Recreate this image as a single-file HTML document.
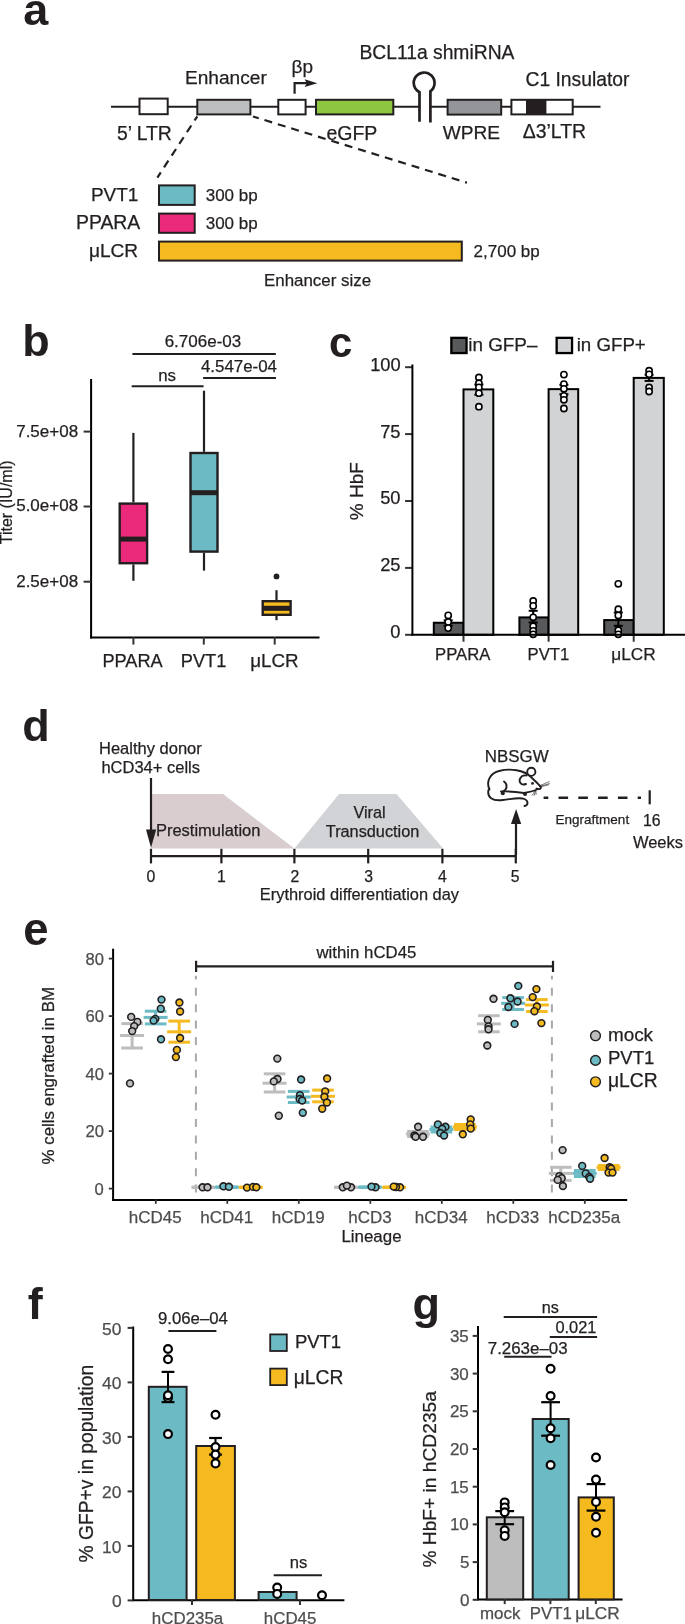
<!DOCTYPE html>
<html><head><meta charset="utf-8"><title>Figure</title>
<style>
html,body{margin:0;padding:0;background:#fff;}
body{width:685px;height:1624px;overflow:hidden;}
svg{display:block;font-family:"Liberation Sans",sans-serif;will-change:transform;}
</style></head>
<body>
<svg width="685" height="1624" viewBox="0 0 685 1624">
<rect width="685" height="1624" fill="#fff"/>
<text x="23.3" y="25" font-size="45" font-weight="bold" fill="#231f20">a</text>
<line x1="111" y1="106.7" x2="419.5" y2="106.7" stroke="#231f20" stroke-width="2" />
<line x1="430.4" y1="106.7" x2="600.5" y2="106.7" stroke="#231f20" stroke-width="2" />
<rect x="139.5" y="98.6" width="28.2" height="15.6" fill="#fff" stroke="#231f20" stroke-width="2"/>
<rect x="197.3" y="99.8" width="53.1" height="14.6" fill="#bcbec0" stroke="#231f20" stroke-width="2"/>
<rect x="278.3" y="99.8" width="27.3" height="14.6" fill="#fff" stroke="#231f20" stroke-width="2"/>
<rect x="316" y="99.8" width="77.3" height="14.6" fill="#8dc63f" stroke="#231f20" stroke-width="2"/>
<rect x="447.6" y="99.8" width="53.6" height="14.8" fill="#939598" stroke="#231f20" stroke-width="2"/>
<rect x="511.4" y="99.8" width="61.3" height="14.6" fill="#fff" stroke="#231f20" stroke-width="2"/>
<rect x="526" y="99.8" width="20.4" height="14.6" fill="#231f20"/>
<path d="M419.5 121.8 L419.5 92.2 A10.4 10.4 0 1 1 430.4 91.21 L430.4 122.4" fill="none" stroke="#231f20" stroke-width="2.7"/>
<path d="M294.6 93.8 L294.6 83.2 L307 83.2" fill="none" stroke="#231f20" stroke-width="2.2"/>
<path d="M304.6 79.3 L317.4 83.2 L304.6 87.1 L306.8 83.2 Z" fill="#231f20"/>
<text x="185" y="84.2" font-size="19.1" fill="#231f20" stroke="#231f20" stroke-width="0.25">Enhancer</text>
<text x="291.6" y="72.5" font-size="19.0" fill="#231f20" stroke="#231f20" stroke-width="0.25">βp</text>
<text x="359.4" y="58.6" font-size="19.3" fill="#231f20" stroke="#231f20" stroke-width="0.25">BCL11a shmiRNA</text>
<text x="525.5" y="86.2" font-size="19.3" fill="#231f20" stroke="#231f20" stroke-width="0.25">C1 Insulator</text>
<text x="116.9" y="140.3" font-size="19.4" fill="#231f20" stroke="#231f20" stroke-width="0.25">5’ LTR</text>
<text x="326.4" y="139.8" font-size="19.5" fill="#231f20" stroke="#231f20" stroke-width="0.25">eGFP</text>
<text x="442.7" y="138.5" font-size="19.1" fill="#231f20" stroke="#231f20" stroke-width="0.25">WPRE</text>
<text x="522.8" y="138.3" font-size="19.4" fill="#231f20" stroke="#231f20" stroke-width="0.25">Δ3’LTR</text>
<line x1="197.3" y1="116.3" x2="157.4" y2="177.6" stroke="#231f20" stroke-width="2.2" stroke-dasharray="8 6" stroke-dashoffset="3"/>
<line x1="253" y1="116.5" x2="467" y2="182.7" stroke="#231f20" stroke-width="2.2" stroke-dasharray="8 6" stroke-dashoffset="2"/>
<rect x="159" y="185.4" width="35.7" height="19.5" fill="#6cbac4" stroke="#231f20" stroke-width="2"/>
<rect x="159" y="213.6" width="35.7" height="19.2" fill="#ec2a7b" stroke="#231f20" stroke-width="2"/>
<rect x="159" y="241.6" width="302.8" height="19" fill="#f4ba1f" stroke="#231f20" stroke-width="2"/>
<text x="90.9" y="201.2" font-size="19.0" fill="#231f20" stroke="#231f20" stroke-width="0.25">PVT1</text>
<text x="76" y="228.7" font-size="19.4" fill="#231f20" stroke="#231f20" stroke-width="0.25">PPARA</text>
<text x="88.9" y="256.6" font-size="19.1" fill="#231f20" stroke="#231f20" stroke-width="0.25">μLCR</text>
<text x="205.7" y="201.2" font-size="17.0" fill="#231f20" stroke="#231f20" stroke-width="0.25">300 bp</text>
<text x="205.7" y="228.7" font-size="17.0" fill="#231f20" stroke="#231f20" stroke-width="0.25">300 bp</text>
<text x="473.6" y="257" font-size="17.0" fill="#231f20" stroke="#231f20" stroke-width="0.25">2,700 bp</text>
<text x="264" y="286.1" font-size="16.9" fill="#231f20" stroke="#231f20" stroke-width="0.25">Enhancer size</text>
<text x="22.2" y="356.4" font-size="45" font-weight="bold" fill="#231f20">b</text>
<line x1="91.1" y1="379" x2="91.1" y2="638.6" stroke="#000" stroke-width="2" />
<line x1="90.1" y1="637.6" x2="319.5" y2="637.6" stroke="#000" stroke-width="2" />
<line x1="83.6" y1="431.6" x2="91" y2="431.6" stroke="#333" stroke-width="2" />
<text x="16.2" y="436.5" font-size="17.0" fill="#231f20" stroke="#231f20" stroke-width="0.25">7.5e+08</text>
<line x1="83.6" y1="506.5" x2="91" y2="506.5" stroke="#333" stroke-width="2" />
<text x="16.2" y="511.4" font-size="17.0" fill="#231f20" stroke="#231f20" stroke-width="0.25">5.0e+08</text>
<line x1="83.6" y1="581.7" x2="91" y2="581.7" stroke="#333" stroke-width="2" />
<text x="16.2" y="586.6" font-size="17.0" fill="#231f20" stroke="#231f20" stroke-width="0.25">2.5e+08</text>
<line x1="133.4" y1="637" x2="133.4" y2="644.6" stroke="#333" stroke-width="2" />
<text x="102.4" y="666.7" font-size="18.2" fill="#231f20" stroke="#231f20" stroke-width="0.25">PPARA</text>
<line x1="203.8" y1="637" x2="203.8" y2="644.6" stroke="#333" stroke-width="2" />
<text x="180.8" y="666.7" font-size="18.2" fill="#231f20" stroke="#231f20" stroke-width="0.25">PVT1</text>
<line x1="274.7" y1="637" x2="274.7" y2="644.6" stroke="#333" stroke-width="2" />
<text x="250.2" y="666.7" font-size="18.8" fill="#231f20" stroke="#231f20" stroke-width="0.25">μLCR</text>
<text transform="translate(12.3,544.25) rotate(-90)" font-size="16.0" fill="#231f20" stroke="#231f20" stroke-width="0.25">Titer (IU/ml)</text>
<line x1="133.4" y1="432.9" x2="133.4" y2="502.4" stroke="#231f20" stroke-width="2.2" />
<line x1="133.4" y1="564.4" x2="133.4" y2="580.8" stroke="#231f20" stroke-width="2.2" />
<rect x="119.7" y="503.6" width="27.4" height="59.6" fill="#ec2a7b" stroke="#231f20" stroke-width="2.4"/>
<rect x="119.5" y="536.6" width="27.8" height="5" fill="#231f20"/>
<line x1="204" y1="390.7" x2="204" y2="451.8" stroke="#231f20" stroke-width="2.2" />
<line x1="204" y1="552.8" x2="204" y2="570.6" stroke="#231f20" stroke-width="2.2" />
<rect x="190.5" y="453" width="27" height="98.6" fill="#6cbac4" stroke="#231f20" stroke-width="2.4"/>
<rect x="190.3" y="490.2" width="27.4" height="5" fill="#231f20"/>
<line x1="276.5" y1="590.2" x2="276.5" y2="600" stroke="#231f20" stroke-width="2.2" />
<line x1="276.5" y1="616" x2="276.5" y2="620.2" stroke="#231f20" stroke-width="2.2" />
<rect x="262.7" y="601.2" width="27.9" height="13.6" fill="#f4ba1f" stroke="#231f20" stroke-width="2.4"/>
<rect x="262.5" y="605.8" width="28.3" height="5" fill="#231f20"/>
<circle cx="276.5" cy="576.4" r="2.9" fill="#231f20"/>
<line x1="132.4" y1="354" x2="275.8" y2="354" stroke="#231f20" stroke-width="2" />
<text x="164.65" y="347.3" font-size="17.0" fill="#231f20" stroke="#231f20" stroke-width="0.25">6.706e-03</text>
<line x1="203.1" y1="378.1" x2="276" y2="378.1" stroke="#231f20" stroke-width="2" />
<text x="200.95" y="372.1" font-size="16.9" fill="#231f20" stroke="#231f20" stroke-width="0.25">4.547e-04</text>
<line x1="131.7" y1="386.3" x2="203.6" y2="386.3" stroke="#231f20" stroke-width="2" />
<text x="158.15" y="380.8" font-size="16.9" fill="#231f20" stroke="#231f20" stroke-width="0.25">ns</text>
<text x="329" y="356.6" font-size="42" font-weight="bold" fill="#231f20">c</text>
<line x1="405.1" y1="634.8" x2="412.4" y2="634.8" stroke="#333" stroke-width="2" />
<text x="390.2" y="638.2" font-size="18.3" fill="#231f20" stroke="#231f20" stroke-width="0.25">0</text>
<line x1="405.1" y1="567.9" x2="412.4" y2="567.9" stroke="#333" stroke-width="2" />
<text x="380.2" y="571.3" font-size="18.3" fill="#231f20" stroke="#231f20" stroke-width="0.25">25</text>
<line x1="405.1" y1="501" x2="412.4" y2="501" stroke="#333" stroke-width="2" />
<text x="380.2" y="504.4" font-size="18.3" fill="#231f20" stroke="#231f20" stroke-width="0.25">50</text>
<line x1="405.1" y1="434.1" x2="412.4" y2="434.1" stroke="#333" stroke-width="2" />
<text x="380.2" y="437.5" font-size="18.3" fill="#231f20" stroke="#231f20" stroke-width="0.25">75</text>
<line x1="405.1" y1="367.2" x2="412.4" y2="367.2" stroke="#333" stroke-width="2" />
<text x="370.2" y="370.6" font-size="18.3" fill="#231f20" stroke="#231f20" stroke-width="0.25">100</text>
<text transform="translate(362.9,520.15) rotate(-90)" font-size="19.0" fill="#231f20" stroke="#231f20" stroke-width="0.25">% HbF</text>
<rect x="433.8" y="622.76" width="29.7" height="12.04" fill="#58595b" stroke="#000" stroke-width="2"/>
<rect x="463.5" y="389.41" width="29.8" height="245.39" fill="#d1d3d4" stroke="#000" stroke-width="2"/>
<line x1="463.5" y1="634.8" x2="463.5" y2="641.7" stroke="#333" stroke-width="2" />
<text x="435" y="660" font-size="16.7" fill="#231f20" stroke="#231f20" stroke-width="0.25">PPARA</text>
<line x1="448.2" y1="620.3" x2="448.2" y2="625.8" stroke="#000" stroke-width="2" />
<line x1="443.7" y1="620.3" x2="452.7" y2="620.3" stroke="#000" stroke-width="2" />
<line x1="443.7" y1="625.8" x2="452.7" y2="625.8" stroke="#000" stroke-width="2" />
<circle cx="448.2" cy="615.4" r="3.1" fill="#fff" stroke="#000" stroke-width="1.6"/>
<circle cx="448.2" cy="622.1" r="3.1" fill="#fff" stroke="#000" stroke-width="1.6"/>
<circle cx="448.2" cy="628.1" r="3.1" fill="#fff" stroke="#000" stroke-width="1.6"/>
<line x1="478.9" y1="384.5" x2="478.9" y2="394.7" stroke="#000" stroke-width="2" />
<line x1="474.4" y1="384.5" x2="483.4" y2="384.5" stroke="#000" stroke-width="2" />
<line x1="474.4" y1="394.7" x2="483.4" y2="394.7" stroke="#000" stroke-width="2" />
<circle cx="478.9" cy="377.5" r="3.1" fill="#fff" stroke="#000" stroke-width="1.6"/>
<circle cx="478.9" cy="383.2" r="3.1" fill="#fff" stroke="#000" stroke-width="1.6"/>
<circle cx="478.9" cy="387.4" r="3.1" fill="#fff" stroke="#000" stroke-width="1.6"/>
<circle cx="478.9" cy="393.2" r="3.1" fill="#fff" stroke="#000" stroke-width="1.6"/>
<circle cx="478.9" cy="406.7" r="3.1" fill="#fff" stroke="#000" stroke-width="1.6"/>
<rect x="519.4" y="617.41" width="29.2" height="17.39" fill="#58595b" stroke="#000" stroke-width="2"/>
<rect x="548.6" y="389.14" width="29.6" height="245.66" fill="#d1d3d4" stroke="#000" stroke-width="2"/>
<line x1="548.6" y1="634.8" x2="548.6" y2="641.7" stroke="#333" stroke-width="2" />
<text x="527.6" y="660" font-size="16.7" fill="#231f20" stroke="#231f20" stroke-width="0.25">PVT1</text>
<line x1="533.2" y1="610.8" x2="533.2" y2="622.5" stroke="#000" stroke-width="2" />
<line x1="528.7" y1="610.8" x2="537.7" y2="610.8" stroke="#000" stroke-width="2" />
<line x1="528.7" y1="622.5" x2="537.7" y2="622.5" stroke="#000" stroke-width="2" />
<circle cx="533.2" cy="601" r="3.1" fill="#fff" stroke="#000" stroke-width="1.6"/>
<circle cx="533.2" cy="605.9" r="3.1" fill="#fff" stroke="#000" stroke-width="1.6"/>
<circle cx="533.2" cy="617.3" r="3.1" fill="#fff" stroke="#000" stroke-width="1.6"/>
<circle cx="533.2" cy="626.2" r="3.1" fill="#fff" stroke="#000" stroke-width="1.6"/>
<circle cx="533.2" cy="630.8" r="3.1" fill="#fff" stroke="#000" stroke-width="1.6"/>
<circle cx="533.2" cy="634.3" r="3.1" fill="#fff" stroke="#000" stroke-width="1.6"/>
<line x1="563.9" y1="384.8" x2="563.9" y2="394.3" stroke="#000" stroke-width="2" />
<line x1="559.4" y1="384.8" x2="568.4" y2="384.8" stroke="#000" stroke-width="2" />
<line x1="559.4" y1="394.3" x2="568.4" y2="394.3" stroke="#000" stroke-width="2" />
<circle cx="563.9" cy="374.6" r="3.1" fill="#fff" stroke="#000" stroke-width="1.6"/>
<circle cx="563.9" cy="384.1" r="3.1" fill="#fff" stroke="#000" stroke-width="1.6"/>
<circle cx="563.9" cy="388.8" r="3.1" fill="#fff" stroke="#000" stroke-width="1.6"/>
<circle cx="563.9" cy="395.8" r="3.1" fill="#fff" stroke="#000" stroke-width="1.6"/>
<circle cx="563.9" cy="399.8" r="3.1" fill="#fff" stroke="#000" stroke-width="1.6"/>
<circle cx="563.9" cy="408.5" r="3.1" fill="#fff" stroke="#000" stroke-width="1.6"/>
<rect x="604.2" y="620.08" width="29.5" height="14.72" fill="#58595b" stroke="#000" stroke-width="2"/>
<rect x="633.7" y="377.9" width="30.1" height="256.9" fill="#d1d3d4" stroke="#000" stroke-width="2"/>
<line x1="633.7" y1="634.8" x2="633.7" y2="641.7" stroke="#333" stroke-width="2" />
<text x="611.2" y="660" font-size="17.3" fill="#231f20" stroke="#231f20" stroke-width="0.25">μLCR</text>
<line x1="618.3" y1="612.5" x2="618.3" y2="625.8" stroke="#000" stroke-width="2" />
<line x1="613.8" y1="612.5" x2="622.8" y2="612.5" stroke="#000" stroke-width="2" />
<line x1="613.8" y1="625.8" x2="622.8" y2="625.8" stroke="#000" stroke-width="2" />
<circle cx="618.3" cy="583.8" r="3.1" fill="#fff" stroke="#000" stroke-width="1.6"/>
<circle cx="618.3" cy="609.2" r="3.1" fill="#fff" stroke="#000" stroke-width="1.6"/>
<circle cx="618.3" cy="615.4" r="3.1" fill="#fff" stroke="#000" stroke-width="1.6"/>
<circle cx="618.3" cy="630.2" r="3.1" fill="#fff" stroke="#000" stroke-width="1.6"/>
<circle cx="618.3" cy="634.3" r="3.1" fill="#fff" stroke="#000" stroke-width="1.6"/>
<line x1="649.1" y1="374.7" x2="649.1" y2="380.9" stroke="#000" stroke-width="2" />
<line x1="644.6" y1="374.7" x2="653.6" y2="374.7" stroke="#000" stroke-width="2" />
<line x1="644.6" y1="380.9" x2="653.6" y2="380.9" stroke="#000" stroke-width="2" />
<circle cx="649.1" cy="370.7" r="3.1" fill="#fff" stroke="#000" stroke-width="1.6"/>
<circle cx="649.1" cy="374.3" r="3.1" fill="#fff" stroke="#000" stroke-width="1.6"/>
<circle cx="649.1" cy="387.5" r="3.1" fill="#fff" stroke="#000" stroke-width="1.6"/>
<circle cx="649.1" cy="391.5" r="3.1" fill="#fff" stroke="#000" stroke-width="1.6"/>
<line x1="412.4" y1="364.4" x2="412.4" y2="635.8" stroke="#000" stroke-width="2" />
<line x1="411.4" y1="634.8" x2="685" y2="634.8" stroke="#000" stroke-width="2" />
<rect x="451.35" y="337.85" width="15.2" height="15.2" fill="#58595b" stroke="#000" stroke-width="2.3"/>
<text x="468.2" y="350.7" font-size="18.9" fill="#231f20" stroke="#231f20" stroke-width="0.25">in GFP–</text>
<rect x="556.65" y="337.85" width="15.4" height="15.2" fill="#d1d3d4" stroke="#000" stroke-width="2.3"/>
<text x="576.7" y="350.8" font-size="18.7" fill="#231f20" stroke="#231f20" stroke-width="0.25">in GFP+</text>
<text x="22.2" y="740.9" font-size="45" font-weight="bold" fill="#231f20">d</text>
<path d="M151 794.1 L223 794.1 L294.4 848.5 L151 848.5 Z" fill="#d9cdcf"/>
<path d="M294.4 848.5 L339.1 794.1 L396.5 794.1 L443.1 848.5 Z" fill="#d1d3d6"/>
<line x1="150" y1="856.1" x2="516.4" y2="856.1" stroke="#231f20" stroke-width="2.2" />
<line x1="151" y1="848.8" x2="151" y2="863.4" stroke="#231f20" stroke-width="2.2" />
<text x="146.5" y="882.3" font-size="15.8" fill="#231f20" stroke="#231f20" stroke-width="0.25">0</text>
<line x1="221.4" y1="848.8" x2="221.4" y2="863.4" stroke="#231f20" stroke-width="2.2" />
<text x="216.9" y="882.3" font-size="15.8" fill="#231f20" stroke="#231f20" stroke-width="0.25">1</text>
<line x1="294.4" y1="848.8" x2="294.4" y2="863.4" stroke="#231f20" stroke-width="2.2" />
<text x="290.4" y="882.3" font-size="15.8" fill="#231f20" stroke="#231f20" stroke-width="0.25">2</text>
<line x1="368.2" y1="848.8" x2="368.2" y2="863.4" stroke="#231f20" stroke-width="2.2" />
<text x="364.2" y="882.3" font-size="15.8" fill="#231f20" stroke="#231f20" stroke-width="0.25">3</text>
<line x1="442.4" y1="848.8" x2="442.4" y2="863.4" stroke="#231f20" stroke-width="2.2" />
<text x="437.9" y="882.3" font-size="15.8" fill="#231f20" stroke="#231f20" stroke-width="0.25">4</text>
<line x1="515.8" y1="848.8" x2="515.8" y2="863.4" stroke="#231f20" stroke-width="2.2" />
<text x="510.8" y="882.3" font-size="15.8" fill="#231f20" stroke="#231f20" stroke-width="0.25">5</text>
<text x="259.8" y="899.9" font-size="16.4" fill="#231f20" stroke="#231f20" stroke-width="0.25">Erythroid differentiation day</text>
<line x1="151" y1="778" x2="151" y2="832" stroke="#231f20" stroke-width="2.2" />
<path d="M146 829.6 L156.2 829.6 L151 847.8 Z" fill="#231f20"/>
<line x1="516" y1="855" x2="516" y2="820" stroke="#231f20" stroke-width="2.2" />
<path d="M511 824 L521.2 824 L516.1 808.9 Z" fill="#231f20"/>
<text x="99" y="753.9" font-size="16.5" fill="#231f20" stroke="#231f20" stroke-width="0.25">Healthy donor</text>
<text x="101.4" y="773" font-size="16.5" fill="#231f20" stroke="#231f20" stroke-width="0.25">hCD34+ cells</text>
<text x="155.9" y="836" font-size="16.5" fill="#231f20" stroke="#231f20" stroke-width="0.25">Prestimulation</text>
<text x="353.5" y="818" font-size="16.2" fill="#231f20" stroke="#231f20" stroke-width="0.25">Viral</text>
<text x="325.8" y="837.4" font-size="16.3" fill="#231f20" stroke="#231f20" stroke-width="0.25">Transduction</text>
<text x="484.8" y="761.6" font-size="16.9" fill="#231f20" stroke="#231f20" stroke-width="0.25">NBSGW</text>
<path d="M489.5 789.5 C486 782 489.5 773.5 499 771 C510 768 524 770 531 777 C535 781 538.5 784 540.5 786.5" fill="none" stroke="#231f20" stroke-width="1.9" stroke-linecap="round" stroke-linejoin="round"/>
<path d="M501 791.5 C510 791 517 792 524 793 C530 792 535 790.5 538 789" fill="none" stroke="#231f20" stroke-width="1.9" stroke-linecap="round" stroke-linejoin="round"/>
<path d="M488.5 790 C487 797 492 801.5 503 800 C512 799 520 797 524.5 799 C529 801 528 805.5 524.5 806" fill="none" stroke="#231f20" stroke-width="1.9" stroke-linecap="round" stroke-linejoin="round"/>
<path d="M504 781.5 C507.5 784 507.5 789 503.5 791" fill="none" stroke="#231f20" stroke-width="1.9" stroke-linecap="round" stroke-linejoin="round"/>
<path d="M540.5 786.5 C542 788.5 539 790 536.5 788.5" fill="none" stroke="#231f20" stroke-width="1.9" stroke-linecap="round" stroke-linejoin="round"/>
<circle cx="531.3" cy="771.8" r="4.1" fill="#fff" stroke="#231f20" stroke-width="1.9"/>
<path d="M526.5 775.5 C520.5 774.5 517.5 781 521.5 784 C523 785 524.5 784.5 526 784" fill="none" stroke="#231f20" stroke-width="1.9" stroke-linecap="round" stroke-linejoin="round"/>
<circle cx="532.5" cy="783.4" r="1.4" fill="#231f20"/>
<circle cx="502.8" cy="793.3" r="2" fill="#231f20"/>
<circle cx="525" cy="793.9" r="2" fill="#231f20"/>
<path d="M539 786 L549.5 781.5 M539 786.5 L550 783.5 M539.5 787 L549 784.8 M535 791 L532 795.5 M535.5 791 L534 795.8 M536 791 L536 795" stroke="#231f20" stroke-width="0.6" fill="none"/>
<line x1="543.6" y1="797.7" x2="641" y2="797.7" stroke="#231f20" stroke-width="2.4" stroke-dasharray="9.6 10.2" stroke-dashoffset="4.9"/>
<line x1="649.7" y1="790.3" x2="649.7" y2="804.3" stroke="#231f20" stroke-width="2.2" />
<text x="555.6" y="823.8" font-size="13.5" fill="#231f20" stroke="#231f20" stroke-width="0.25">Engraftment</text>
<text x="643" y="825.6" font-size="15.8" fill="#231f20" stroke="#231f20" stroke-width="0.25">16</text>
<text x="632.9" y="848" font-size="16.5" fill="#231f20" stroke="#231f20" stroke-width="0.25">Weeks</text>
<text x="23.2" y="945.4" font-size="45.5" font-weight="bold" fill="#231f20">e</text>
<line x1="113.1" y1="948.7" x2="113.1" y2="1200.9" stroke="#000" stroke-width="2" />
<line x1="112.1" y1="1199.9" x2="627.2" y2="1199.9" stroke="#000" stroke-width="2" />
<line x1="108.8" y1="1188.6" x2="113.1" y2="1188.6" stroke="#333" stroke-width="1.8" />
<text x="94.6" y="1194.6" font-size="16.6" fill="#4d4d4d" stroke="#4d4d4d" stroke-width="0.25">0</text>
<line x1="108.8" y1="1131.1" x2="113.1" y2="1131.1" stroke="#333" stroke-width="1.8" />
<text x="85.6" y="1137.1" font-size="16.6" fill="#4d4d4d" stroke="#4d4d4d" stroke-width="0.25">20</text>
<line x1="108.8" y1="1073.6" x2="113.1" y2="1073.6" stroke="#333" stroke-width="1.8" />
<text x="85.6" y="1079.6" font-size="16.6" fill="#4d4d4d" stroke="#4d4d4d" stroke-width="0.25">40</text>
<line x1="108.8" y1="1016.1" x2="113.1" y2="1016.1" stroke="#333" stroke-width="1.8" />
<text x="85.6" y="1022.1" font-size="16.6" fill="#4d4d4d" stroke="#4d4d4d" stroke-width="0.25">60</text>
<line x1="108.8" y1="958.6" x2="113.1" y2="958.6" stroke="#333" stroke-width="1.8" />
<text x="85.6" y="964.6" font-size="16.6" fill="#4d4d4d" stroke="#4d4d4d" stroke-width="0.25">80</text>
<text transform="translate(54,1164.45) rotate(-90)" font-size="16.9" fill="#231f20" stroke="#231f20" stroke-width="0.25">% cells engrafted in BM</text>
<line x1="155.8" y1="1199.5" x2="155.8" y2="1203.8" stroke="#333" stroke-width="1.8" />
<text x="128.8" y="1222.9" font-size="17.0" fill="#4d4d4d" stroke="#4d4d4d" stroke-width="0.25">hCD45</text>
<line x1="227.3" y1="1199.5" x2="227.3" y2="1203.8" stroke="#333" stroke-width="1.8" />
<text x="200.3" y="1222.9" font-size="17.0" fill="#4d4d4d" stroke="#4d4d4d" stroke-width="0.25">hCD41</text>
<line x1="298.8" y1="1199.5" x2="298.8" y2="1203.8" stroke="#333" stroke-width="1.8" />
<text x="271.8" y="1222.9" font-size="17.0" fill="#4d4d4d" stroke="#4d4d4d" stroke-width="0.25">hCD19</text>
<line x1="370.3" y1="1199.5" x2="370.3" y2="1203.8" stroke="#333" stroke-width="1.8" />
<text x="348.3" y="1222.9" font-size="17.0" fill="#4d4d4d" stroke="#4d4d4d" stroke-width="0.25">hCD3</text>
<line x1="441.8" y1="1199.5" x2="441.8" y2="1203.8" stroke="#333" stroke-width="1.8" />
<text x="414.8" y="1222.9" font-size="17.0" fill="#4d4d4d" stroke="#4d4d4d" stroke-width="0.25">hCD34</text>
<line x1="513.3" y1="1199.5" x2="513.3" y2="1203.8" stroke="#333" stroke-width="1.8" />
<text x="486.3" y="1222.9" font-size="17.0" fill="#4d4d4d" stroke="#4d4d4d" stroke-width="0.25">hCD33</text>
<line x1="584.8" y1="1199.5" x2="584.8" y2="1203.8" stroke="#333" stroke-width="1.8" />
<text x="548.3" y="1222.9" font-size="17.0" fill="#4d4d4d" stroke="#4d4d4d" stroke-width="0.25">hCD235a</text>
<text x="341.45" y="1242.1" font-size="16.9" fill="#231f20" stroke="#231f20" stroke-width="0.25">Lineage</text>
<line x1="195.9" y1="975.8" x2="195.9" y2="1194" stroke="#a7a9ac" stroke-width="2" stroke-dasharray="8 8.4" stroke-dashoffset="4.4"/>
<line x1="551.9" y1="975.8" x2="551.9" y2="1194" stroke="#a7a9ac" stroke-width="2" stroke-dasharray="8 8.4" stroke-dashoffset="4.4"/>
<line x1="196.1" y1="966.3" x2="553" y2="966.3" stroke="#231f20" stroke-width="2.2" />
<line x1="196.1" y1="960.8" x2="196.1" y2="972" stroke="#231f20" stroke-width="2.2" />
<line x1="553" y1="960.8" x2="553" y2="972" stroke="#231f20" stroke-width="2.2" />
<text x="316.5" y="957.5" font-size="16.8" fill="#231f20" stroke="#231f20" stroke-width="0.25">within hCD45</text>
<line x1="132.1" y1="1023.6" x2="132.1" y2="1048" stroke="#bdbdbd" stroke-width="3" />
<line x1="121.3" y1="1023.6" x2="142.9" y2="1023.6" stroke="#bdbdbd" stroke-width="3" />
<line x1="120.1" y1="1035.5" x2="144.1" y2="1035.5" stroke="#bdbdbd" stroke-width="3" />
<line x1="121.3" y1="1048" x2="142.9" y2="1048" stroke="#bdbdbd" stroke-width="3" />
<line x1="155.6" y1="1011.2" x2="155.6" y2="1023.9" stroke="#6cbac4" stroke-width="3" />
<line x1="144.8" y1="1011.2" x2="166.4" y2="1011.2" stroke="#6cbac4" stroke-width="3" />
<line x1="143.6" y1="1017.4" x2="167.6" y2="1017.4" stroke="#6cbac4" stroke-width="3" />
<line x1="144.8" y1="1023.9" x2="166.4" y2="1023.9" stroke="#6cbac4" stroke-width="3" />
<line x1="179.2" y1="1021.1" x2="179.2" y2="1042.2" stroke="#f4ba1f" stroke-width="3" />
<line x1="168.4" y1="1021.1" x2="190" y2="1021.1" stroke="#f4ba1f" stroke-width="3" />
<line x1="167.2" y1="1031.8" x2="191.2" y2="1031.8" stroke="#f4ba1f" stroke-width="3" />
<line x1="168.4" y1="1042.2" x2="190" y2="1042.2" stroke="#f4ba1f" stroke-width="3" />
<line x1="203.4" y1="1187.3" x2="203.4" y2="1187.3" stroke="#bdbdbd" stroke-width="3" />
<line x1="192.6" y1="1187.3" x2="214.2" y2="1187.3" stroke="#bdbdbd" stroke-width="3" />
<line x1="191.4" y1="1187.3" x2="215.4" y2="1187.3" stroke="#bdbdbd" stroke-width="3" />
<line x1="192.6" y1="1187.3" x2="214.2" y2="1187.3" stroke="#bdbdbd" stroke-width="3" />
<line x1="226.9" y1="1187.2" x2="226.9" y2="1187.2" stroke="#6cbac4" stroke-width="3" />
<line x1="216.1" y1="1187.2" x2="237.7" y2="1187.2" stroke="#6cbac4" stroke-width="3" />
<line x1="214.9" y1="1187.2" x2="238.9" y2="1187.2" stroke="#6cbac4" stroke-width="3" />
<line x1="216.1" y1="1187.2" x2="237.7" y2="1187.2" stroke="#6cbac4" stroke-width="3" />
<line x1="250.8" y1="1187.3" x2="250.8" y2="1187.3" stroke="#f4ba1f" stroke-width="3" />
<line x1="240" y1="1187.3" x2="261.6" y2="1187.3" stroke="#f4ba1f" stroke-width="3" />
<line x1="238.8" y1="1187.3" x2="262.8" y2="1187.3" stroke="#f4ba1f" stroke-width="3" />
<line x1="240" y1="1187.3" x2="261.6" y2="1187.3" stroke="#f4ba1f" stroke-width="3" />
<line x1="274.6" y1="1073.8" x2="274.6" y2="1092" stroke="#bdbdbd" stroke-width="3" />
<line x1="263.8" y1="1073.8" x2="285.4" y2="1073.8" stroke="#bdbdbd" stroke-width="3" />
<line x1="262.6" y1="1083.2" x2="286.6" y2="1083.2" stroke="#bdbdbd" stroke-width="3" />
<line x1="263.8" y1="1092" x2="285.4" y2="1092" stroke="#bdbdbd" stroke-width="3" />
<line x1="298.7" y1="1091.4" x2="298.7" y2="1102.5" stroke="#6cbac4" stroke-width="3" />
<line x1="287.9" y1="1091.4" x2="309.5" y2="1091.4" stroke="#6cbac4" stroke-width="3" />
<line x1="286.7" y1="1097" x2="310.7" y2="1097" stroke="#6cbac4" stroke-width="3" />
<line x1="287.9" y1="1102.5" x2="309.5" y2="1102.5" stroke="#6cbac4" stroke-width="3" />
<line x1="323" y1="1090.1" x2="323" y2="1101.8" stroke="#f4ba1f" stroke-width="3" />
<line x1="312.2" y1="1090.1" x2="333.8" y2="1090.1" stroke="#f4ba1f" stroke-width="3" />
<line x1="311" y1="1096.3" x2="335" y2="1096.3" stroke="#f4ba1f" stroke-width="3" />
<line x1="312.2" y1="1101.8" x2="333.8" y2="1101.8" stroke="#f4ba1f" stroke-width="3" />
<line x1="346" y1="1187.3" x2="346" y2="1187.3" stroke="#bdbdbd" stroke-width="3" />
<line x1="335.2" y1="1187.3" x2="356.8" y2="1187.3" stroke="#bdbdbd" stroke-width="3" />
<line x1="334" y1="1187.3" x2="358" y2="1187.3" stroke="#bdbdbd" stroke-width="3" />
<line x1="335.2" y1="1187.3" x2="356.8" y2="1187.3" stroke="#bdbdbd" stroke-width="3" />
<line x1="369.9" y1="1187.2" x2="369.9" y2="1187.2" stroke="#6cbac4" stroke-width="3" />
<line x1="359.1" y1="1187.2" x2="380.7" y2="1187.2" stroke="#6cbac4" stroke-width="3" />
<line x1="357.9" y1="1187.2" x2="381.9" y2="1187.2" stroke="#6cbac4" stroke-width="3" />
<line x1="359.1" y1="1187.2" x2="380.7" y2="1187.2" stroke="#6cbac4" stroke-width="3" />
<line x1="394.1" y1="1187.3" x2="394.1" y2="1187.3" stroke="#f4ba1f" stroke-width="3" />
<line x1="383.3" y1="1187.3" x2="404.9" y2="1187.3" stroke="#f4ba1f" stroke-width="3" />
<line x1="382.1" y1="1187.3" x2="406.1" y2="1187.3" stroke="#f4ba1f" stroke-width="3" />
<line x1="383.3" y1="1187.3" x2="404.9" y2="1187.3" stroke="#f4ba1f" stroke-width="3" />
<line x1="417.9" y1="1131.5" x2="417.9" y2="1136.5" stroke="#bdbdbd" stroke-width="3" />
<line x1="407.1" y1="1131.5" x2="428.7" y2="1131.5" stroke="#bdbdbd" stroke-width="3" />
<line x1="405.9" y1="1134" x2="429.9" y2="1134" stroke="#bdbdbd" stroke-width="3" />
<line x1="407.1" y1="1136.5" x2="428.7" y2="1136.5" stroke="#bdbdbd" stroke-width="3" />
<line x1="441.4" y1="1127" x2="441.4" y2="1132" stroke="#6cbac4" stroke-width="3" />
<line x1="430.6" y1="1127" x2="452.2" y2="1127" stroke="#6cbac4" stroke-width="3" />
<line x1="429.4" y1="1129.5" x2="453.4" y2="1129.5" stroke="#6cbac4" stroke-width="3" />
<line x1="430.6" y1="1132" x2="452.2" y2="1132" stroke="#6cbac4" stroke-width="3" />
<line x1="464.9" y1="1124.5" x2="464.9" y2="1129.5" stroke="#f4ba1f" stroke-width="3" />
<line x1="454.1" y1="1124.5" x2="475.7" y2="1124.5" stroke="#f4ba1f" stroke-width="3" />
<line x1="452.9" y1="1127" x2="476.9" y2="1127" stroke="#f4ba1f" stroke-width="3" />
<line x1="454.1" y1="1129.5" x2="475.7" y2="1129.5" stroke="#f4ba1f" stroke-width="3" />
<line x1="488.9" y1="1015.7" x2="488.9" y2="1031.8" stroke="#bdbdbd" stroke-width="3" />
<line x1="478.1" y1="1015.7" x2="499.7" y2="1015.7" stroke="#bdbdbd" stroke-width="3" />
<line x1="476.9" y1="1023.9" x2="500.9" y2="1023.9" stroke="#bdbdbd" stroke-width="3" />
<line x1="478.1" y1="1031.8" x2="499.7" y2="1031.8" stroke="#bdbdbd" stroke-width="3" />
<line x1="513.1" y1="997.6" x2="513.1" y2="1009.5" stroke="#6cbac4" stroke-width="3" />
<line x1="502.3" y1="997.6" x2="523.9" y2="997.6" stroke="#6cbac4" stroke-width="3" />
<line x1="501.1" y1="1003.3" x2="525.1" y2="1003.3" stroke="#6cbac4" stroke-width="3" />
<line x1="502.3" y1="1009.5" x2="523.9" y2="1009.5" stroke="#6cbac4" stroke-width="3" />
<line x1="536.9" y1="999.6" x2="536.9" y2="1011.5" stroke="#f4ba1f" stroke-width="3" />
<line x1="526.1" y1="999.6" x2="547.7" y2="999.6" stroke="#f4ba1f" stroke-width="3" />
<line x1="524.9" y1="1005" x2="548.9" y2="1005" stroke="#f4ba1f" stroke-width="3" />
<line x1="526.1" y1="1011.5" x2="547.7" y2="1011.5" stroke="#f4ba1f" stroke-width="3" />
<line x1="560.8" y1="1167.3" x2="560.8" y2="1180.4" stroke="#bdbdbd" stroke-width="3" />
<line x1="550" y1="1167.3" x2="571.6" y2="1167.3" stroke="#bdbdbd" stroke-width="3" />
<line x1="548.8" y1="1173.4" x2="572.8" y2="1173.4" stroke="#bdbdbd" stroke-width="3" />
<line x1="550" y1="1180.4" x2="571.6" y2="1180.4" stroke="#bdbdbd" stroke-width="3" />
<line x1="584.8" y1="1170.5" x2="584.8" y2="1176.5" stroke="#6cbac4" stroke-width="3" />
<line x1="574" y1="1170.5" x2="595.6" y2="1170.5" stroke="#6cbac4" stroke-width="3" />
<line x1="572.8" y1="1173.4" x2="596.8" y2="1173.4" stroke="#6cbac4" stroke-width="3" />
<line x1="574" y1="1176.5" x2="595.6" y2="1176.5" stroke="#6cbac4" stroke-width="3" />
<line x1="608.6" y1="1165.5" x2="608.6" y2="1169.5" stroke="#f4ba1f" stroke-width="3" />
<line x1="597.8" y1="1165.5" x2="619.4" y2="1165.5" stroke="#f4ba1f" stroke-width="3" />
<line x1="596.6" y1="1167.3" x2="620.6" y2="1167.3" stroke="#f4ba1f" stroke-width="3" />
<line x1="597.8" y1="1169.5" x2="619.4" y2="1169.5" stroke="#f4ba1f" stroke-width="3" />
<circle cx="131.2" cy="1016.9" r="3.4" fill="#bdbdbd" stroke="#231f20" stroke-width="1.6"/>
<circle cx="137.4" cy="1021.9" r="3.4" fill="#bdbdbd" stroke="#231f20" stroke-width="1.6"/>
<circle cx="134.2" cy="1026.1" r="3.4" fill="#bdbdbd" stroke="#231f20" stroke-width="1.6"/>
<circle cx="132.2" cy="1031.1" r="3.4" fill="#bdbdbd" stroke="#231f20" stroke-width="1.6"/>
<circle cx="130" cy="1083.4" r="3.4" fill="#bdbdbd" stroke="#231f20" stroke-width="1.6"/>
<circle cx="161.5" cy="999.6" r="3.4" fill="#6cbac4" stroke="#231f20" stroke-width="1.6"/>
<circle cx="160.8" cy="1008.7" r="3.4" fill="#6cbac4" stroke="#231f20" stroke-width="1.6"/>
<circle cx="155.3" cy="1018.9" r="3.4" fill="#6cbac4" stroke="#231f20" stroke-width="1.6"/>
<circle cx="153.6" cy="1020.6" r="3.4" fill="#6cbac4" stroke="#231f20" stroke-width="1.6"/>
<circle cx="161" cy="1039.3" r="3.4" fill="#6cbac4" stroke="#231f20" stroke-width="1.6"/>
<circle cx="179.4" cy="1002.5" r="3.4" fill="#f4ba1f" stroke="#231f20" stroke-width="1.6"/>
<circle cx="180.1" cy="1011.5" r="3.4" fill="#f4ba1f" stroke="#231f20" stroke-width="1.6"/>
<circle cx="180.1" cy="1038" r="3.4" fill="#f4ba1f" stroke="#231f20" stroke-width="1.6"/>
<circle cx="176.9" cy="1049.9" r="3.4" fill="#f4ba1f" stroke="#231f20" stroke-width="1.6"/>
<circle cx="175.9" cy="1057.1" r="3.4" fill="#f4ba1f" stroke="#231f20" stroke-width="1.6"/>
<circle cx="202.6" cy="1187.3" r="3.4" fill="#bdbdbd" stroke="#231f20" stroke-width="1.6"/>
<circle cx="207.5" cy="1187.3" r="3.4" fill="#bdbdbd" stroke="#231f20" stroke-width="1.6"/>
<circle cx="223.4" cy="1186.3" r="3.4" fill="#6cbac4" stroke="#231f20" stroke-width="1.6"/>
<circle cx="228.9" cy="1186.8" r="3.4" fill="#6cbac4" stroke="#231f20" stroke-width="1.6"/>
<circle cx="247" cy="1187.6" r="3.4" fill="#f4ba1f" stroke="#231f20" stroke-width="1.6"/>
<circle cx="253" cy="1186.9" r="3.4" fill="#f4ba1f" stroke="#231f20" stroke-width="1.6"/>
<circle cx="256.3" cy="1187.3" r="3.4" fill="#f4ba1f" stroke="#231f20" stroke-width="1.6"/>
<circle cx="277.3" cy="1058.6" r="3.4" fill="#bdbdbd" stroke="#231f20" stroke-width="1.6"/>
<circle cx="277.5" cy="1079" r="3.4" fill="#bdbdbd" stroke="#231f20" stroke-width="1.6"/>
<circle cx="273.8" cy="1081.4" r="3.4" fill="#bdbdbd" stroke="#231f20" stroke-width="1.6"/>
<circle cx="278.8" cy="1115.7" r="3.4" fill="#bdbdbd" stroke="#231f20" stroke-width="1.6"/>
<circle cx="301.1" cy="1079.5" r="3.4" fill="#6cbac4" stroke="#231f20" stroke-width="1.6"/>
<circle cx="299.9" cy="1095.1" r="3.4" fill="#6cbac4" stroke="#231f20" stroke-width="1.6"/>
<circle cx="299.6" cy="1099" r="3.4" fill="#6cbac4" stroke="#231f20" stroke-width="1.6"/>
<circle cx="302.2" cy="1100.5" r="3.4" fill="#6cbac4" stroke="#231f20" stroke-width="1.6"/>
<circle cx="302.8" cy="1112.7" r="3.4" fill="#6cbac4" stroke="#231f20" stroke-width="1.6"/>
<circle cx="327.1" cy="1078.5" r="3.4" fill="#f4ba1f" stroke="#231f20" stroke-width="1.6"/>
<circle cx="325.2" cy="1091.4" r="3.4" fill="#f4ba1f" stroke="#231f20" stroke-width="1.6"/>
<circle cx="324.4" cy="1096.8" r="3.4" fill="#f4ba1f" stroke="#231f20" stroke-width="1.6"/>
<circle cx="326.9" cy="1102.5" r="3.4" fill="#f4ba1f" stroke="#231f20" stroke-width="1.6"/>
<circle cx="322.2" cy="1108.7" r="3.4" fill="#f4ba1f" stroke="#231f20" stroke-width="1.6"/>
<circle cx="342.8" cy="1187.3" r="3.4" fill="#bdbdbd" stroke="#231f20" stroke-width="1.6"/>
<circle cx="351" cy="1187.3" r="3.4" fill="#bdbdbd" stroke="#231f20" stroke-width="1.6"/>
<circle cx="346.9" cy="1185.6" r="3.4" fill="#bdbdbd" stroke="#231f20" stroke-width="1.6"/>
<circle cx="375.5" cy="1187.3" r="3.4" fill="#6cbac4" stroke="#231f20" stroke-width="1.6"/>
<circle cx="371.5" cy="1186.6" r="3.4" fill="#6cbac4" stroke="#231f20" stroke-width="1.6"/>
<circle cx="400" cy="1187.3" r="3.4" fill="#f4ba1f" stroke="#231f20" stroke-width="1.6"/>
<circle cx="396" cy="1187" r="3.4" fill="#f4ba1f" stroke="#231f20" stroke-width="1.6"/>
<circle cx="393.7" cy="1186.6" r="3.4" fill="#f4ba1f" stroke="#231f20" stroke-width="1.6"/>
<circle cx="418.1" cy="1126.8" r="3.4" fill="#bdbdbd" stroke="#231f20" stroke-width="1.6"/>
<circle cx="414.4" cy="1135.5" r="3.4" fill="#bdbdbd" stroke="#231f20" stroke-width="1.6"/>
<circle cx="415.6" cy="1136.8" r="3.4" fill="#bdbdbd" stroke="#231f20" stroke-width="1.6"/>
<circle cx="423" cy="1136.8" r="3.4" fill="#bdbdbd" stroke="#231f20" stroke-width="1.6"/>
<circle cx="437.9" cy="1124.4" r="3.4" fill="#6cbac4" stroke="#231f20" stroke-width="1.6"/>
<circle cx="445.4" cy="1126.8" r="3.4" fill="#6cbac4" stroke="#231f20" stroke-width="1.6"/>
<circle cx="442.2" cy="1128.8" r="3.4" fill="#6cbac4" stroke="#231f20" stroke-width="1.6"/>
<circle cx="440.4" cy="1133" r="3.4" fill="#6cbac4" stroke="#231f20" stroke-width="1.6"/>
<circle cx="444.1" cy="1135.5" r="3.4" fill="#6cbac4" stroke="#231f20" stroke-width="1.6"/>
<circle cx="470.7" cy="1119.4" r="3.4" fill="#f4ba1f" stroke="#231f20" stroke-width="1.6"/>
<circle cx="470.2" cy="1124.4" r="3.4" fill="#f4ba1f" stroke="#231f20" stroke-width="1.6"/>
<circle cx="470.7" cy="1128.6" r="3.4" fill="#f4ba1f" stroke="#231f20" stroke-width="1.6"/>
<circle cx="462.8" cy="1134.3" r="3.4" fill="#f4ba1f" stroke="#231f20" stroke-width="1.6"/>
<circle cx="493.5" cy="998.8" r="3.4" fill="#bdbdbd" stroke="#231f20" stroke-width="1.6"/>
<circle cx="487.8" cy="1019.9" r="3.4" fill="#bdbdbd" stroke="#231f20" stroke-width="1.6"/>
<circle cx="488.5" cy="1026.4" r="3.4" fill="#bdbdbd" stroke="#231f20" stroke-width="1.6"/>
<circle cx="488.5" cy="1029.3" r="3.4" fill="#bdbdbd" stroke="#231f20" stroke-width="1.6"/>
<circle cx="487.3" cy="1045.5" r="3.4" fill="#bdbdbd" stroke="#231f20" stroke-width="1.6"/>
<circle cx="518.3" cy="985.9" r="3.4" fill="#6cbac4" stroke="#231f20" stroke-width="1.6"/>
<circle cx="510.4" cy="998.3" r="3.4" fill="#6cbac4" stroke="#231f20" stroke-width="1.6"/>
<circle cx="517.6" cy="1001.5" r="3.4" fill="#6cbac4" stroke="#231f20" stroke-width="1.6"/>
<circle cx="508.4" cy="1007" r="3.4" fill="#6cbac4" stroke="#231f20" stroke-width="1.6"/>
<circle cx="514.6" cy="1023.9" r="3.4" fill="#6cbac4" stroke="#231f20" stroke-width="1.6"/>
<circle cx="536.4" cy="989.1" r="3.4" fill="#f4ba1f" stroke="#231f20" stroke-width="1.6"/>
<circle cx="532.7" cy="997.1" r="3.4" fill="#f4ba1f" stroke="#231f20" stroke-width="1.6"/>
<circle cx="536.9" cy="1006.5" r="3.4" fill="#f4ba1f" stroke="#231f20" stroke-width="1.6"/>
<circle cx="534.4" cy="1011.2" r="3.4" fill="#f4ba1f" stroke="#231f20" stroke-width="1.6"/>
<circle cx="541.4" cy="1023.1" r="3.4" fill="#f4ba1f" stroke="#231f20" stroke-width="1.6"/>
<circle cx="562.6" cy="1150.1" r="3.4" fill="#bdbdbd" stroke="#231f20" stroke-width="1.6"/>
<circle cx="559.4" cy="1176.1" r="3.4" fill="#bdbdbd" stroke="#231f20" stroke-width="1.6"/>
<circle cx="561.7" cy="1178.2" r="3.4" fill="#bdbdbd" stroke="#231f20" stroke-width="1.6"/>
<circle cx="557.7" cy="1179.9" r="3.4" fill="#bdbdbd" stroke="#231f20" stroke-width="1.6"/>
<circle cx="562.9" cy="1186" r="3.4" fill="#bdbdbd" stroke="#231f20" stroke-width="1.6"/>
<circle cx="582.2" cy="1165.9" r="3.4" fill="#6cbac4" stroke="#231f20" stroke-width="1.6"/>
<circle cx="585.7" cy="1173.4" r="3.4" fill="#6cbac4" stroke="#231f20" stroke-width="1.6"/>
<circle cx="589.2" cy="1177" r="3.4" fill="#6cbac4" stroke="#231f20" stroke-width="1.6"/>
<circle cx="590.1" cy="1178.7" r="3.4" fill="#6cbac4" stroke="#231f20" stroke-width="1.6"/>
<circle cx="604.6" cy="1158" r="3.4" fill="#f4ba1f" stroke="#231f20" stroke-width="1.6"/>
<circle cx="609.7" cy="1167.3" r="3.4" fill="#f4ba1f" stroke="#231f20" stroke-width="1.6"/>
<circle cx="611.1" cy="1168.7" r="3.4" fill="#f4ba1f" stroke="#231f20" stroke-width="1.6"/>
<circle cx="608.5" cy="1172.6" r="3.4" fill="#f4ba1f" stroke="#231f20" stroke-width="1.6"/>
<circle cx="612.5" cy="1172.6" r="3.4" fill="#f4ba1f" stroke="#231f20" stroke-width="1.6"/>
<circle cx="595.5" cy="1035.7" r="4.9" fill="#bdbdbd" stroke="#231f20" stroke-width="1.4"/>
<circle cx="595.5" cy="1060.4" r="4.9" fill="#6cbac4" stroke="#231f20" stroke-width="1.4"/>
<circle cx="595.5" cy="1081.8" r="4.9" fill="#f4ba1f" stroke="#231f20" stroke-width="1.4"/>
<text x="607.9" y="1040.7" font-size="18.9" fill="#231f20" stroke="#231f20" stroke-width="0.25">mock</text>
<text x="607.9" y="1064" font-size="18.6" fill="#231f20" stroke="#231f20" stroke-width="0.25">PVT1</text>
<text x="607.9" y="1086.9" font-size="19.3" fill="#231f20" stroke="#231f20" stroke-width="0.25">μLCR</text>
<text x="27.8" y="1318.5" font-size="45" font-weight="bold" fill="#231f20">f</text>
<line x1="133.2" y1="1326.6" x2="133.2" y2="1601" stroke="#000" stroke-width="2" />
<line x1="132.2" y1="1600.2" x2="344.4" y2="1600.2" stroke="#000" stroke-width="2" />
<line x1="127.6" y1="1600.4" x2="133.2" y2="1600.4" stroke="#333" stroke-width="2" />
<text x="112.1" y="1607.2" font-size="17.4" fill="#4d4d4d" stroke="#4d4d4d" stroke-width="0.25">0</text>
<line x1="127.6" y1="1545.9" x2="133.2" y2="1545.9" stroke="#333" stroke-width="2" />
<text x="102.1" y="1552.7" font-size="17.4" fill="#4d4d4d" stroke="#4d4d4d" stroke-width="0.25">10</text>
<line x1="127.6" y1="1491.4" x2="133.2" y2="1491.4" stroke="#333" stroke-width="2" />
<text x="102.1" y="1498.2" font-size="17.4" fill="#4d4d4d" stroke="#4d4d4d" stroke-width="0.25">20</text>
<line x1="127.6" y1="1436.9" x2="133.2" y2="1436.9" stroke="#333" stroke-width="2" />
<text x="102.1" y="1443.7" font-size="17.4" fill="#4d4d4d" stroke="#4d4d4d" stroke-width="0.25">30</text>
<line x1="127.6" y1="1382.4" x2="133.2" y2="1382.4" stroke="#333" stroke-width="2" />
<text x="102.1" y="1389.2" font-size="17.4" fill="#4d4d4d" stroke="#4d4d4d" stroke-width="0.25">40</text>
<line x1="127.6" y1="1327.9" x2="133.2" y2="1327.9" stroke="#333" stroke-width="2" />
<text x="102.1" y="1334.7" font-size="17.4" fill="#4d4d4d" stroke="#4d4d4d" stroke-width="0.25">50</text>
<text transform="translate(93.3,1562.55) rotate(-90)" font-size="19.3" fill="#231f20" stroke="#231f20" stroke-width="0.25">% GFP+v in population</text>
<rect x="148.8" y="1386.8" width="37.8" height="213.2" fill="#6cbac4" stroke="#231f20" stroke-width="2"/>
<rect x="196.2" y="1446" width="38.7" height="154" fill="#f4ba1f" stroke="#231f20" stroke-width="2"/>
<rect x="258.6" y="1592" width="38" height="8" fill="#6cbac4" stroke="#231f20" stroke-width="2"/>
<line x1="192" y1="1600" x2="192" y2="1605" stroke="#333" stroke-width="2" />
<line x1="300" y1="1600" x2="300" y2="1605" stroke="#333" stroke-width="2" />
<text x="151.85" y="1623.5" font-size="16.9" fill="#4d4d4d" stroke="#4d4d4d" stroke-width="0.25">hCD235a</text>
<text x="263.8" y="1623.5" font-size="16.9" fill="#4d4d4d" stroke="#4d4d4d" stroke-width="0.25">hCD45</text>
<line x1="168" y1="1371.9" x2="168" y2="1402.1" stroke="#000" stroke-width="2" />
<line x1="161.6" y1="1371.9" x2="174.4" y2="1371.9" stroke="#000" stroke-width="2.2" />
<line x1="161.6" y1="1402.1" x2="174.4" y2="1402.1" stroke="#000" stroke-width="2.2" />
<line x1="215.5" y1="1438" x2="215.5" y2="1454.6" stroke="#000" stroke-width="2" />
<line x1="209.1" y1="1438" x2="221.9" y2="1438" stroke="#000" stroke-width="2.2" />
<line x1="209.1" y1="1454.6" x2="221.9" y2="1454.6" stroke="#000" stroke-width="2.2" />
<circle cx="168" cy="1349" r="3.9" fill="#fff" stroke="#000" stroke-width="2.2"/>
<circle cx="168" cy="1359.2" r="3.9" fill="#fff" stroke="#000" stroke-width="2.2"/>
<circle cx="168" cy="1397.8" r="3.9" fill="#fff" stroke="#000" stroke-width="2.2"/>
<circle cx="168" cy="1395.3" r="3.9" fill="#fff" stroke="#000" stroke-width="2.2"/>
<circle cx="168" cy="1434.1" r="3.9" fill="#fff" stroke="#000" stroke-width="2.2"/>
<circle cx="215.5" cy="1414.8" r="3.9" fill="#fff" stroke="#000" stroke-width="2.2"/>
<circle cx="215.5" cy="1447.1" r="3.9" fill="#fff" stroke="#000" stroke-width="2.2"/>
<circle cx="215.5" cy="1454.6" r="3.9" fill="#fff" stroke="#000" stroke-width="2.2"/>
<circle cx="215.5" cy="1463.4" r="3.9" fill="#fff" stroke="#000" stroke-width="2.2"/>
<circle cx="277.2" cy="1587.6" r="3.9" fill="#fff" stroke="#000" stroke-width="2.2"/>
<circle cx="277.2" cy="1593.9" r="3.9" fill="#fff" stroke="#000" stroke-width="2.2"/>
<circle cx="322" cy="1595.3" r="3.9" fill="#fff" stroke="#000" stroke-width="2.2"/>
<line x1="168.4" y1="1330.9" x2="216.4" y2="1330.9" stroke="#231f20" stroke-width="2" />
<text x="157.95" y="1323.5" font-size="16.8" fill="#231f20" stroke="#231f20" stroke-width="0.25">9.06e–04</text>
<line x1="273.7" y1="1575.3" x2="322" y2="1575.3" stroke="#231f20" stroke-width="2" />
<text x="289.7" y="1568.3" font-size="16.6" fill="#231f20" stroke="#231f20" stroke-width="0.25">ns</text>
<rect x="270.2" y="1334.4" width="16.6" height="16.6" fill="#6cbac4" stroke="#231f20" stroke-width="1.8"/>
<rect x="270.2" y="1368.6" width="16.6" height="16.5" fill="#f4ba1f" stroke="#231f20" stroke-width="1.8"/>
<text x="294.9" y="1348" font-size="18.5" fill="#231f20" stroke="#231f20" stroke-width="0.25">PVT1</text>
<text x="293.7" y="1383.6" font-size="19.3" fill="#231f20" stroke="#231f20" stroke-width="0.25">μLCR</text>
<text x="412.4" y="1318.5" font-size="45" font-weight="bold" fill="#231f20">g</text>
<line x1="478" y1="1325.9" x2="478" y2="1600.2" stroke="#000" stroke-width="2" />
<line x1="477" y1="1599.4" x2="622.6" y2="1599.4" stroke="#000" stroke-width="2" />
<line x1="472.7" y1="1599.8" x2="478" y2="1599.8" stroke="#333" stroke-width="2" />
<text x="459.9" y="1605.7" font-size="17.0" fill="#4d4d4d" stroke="#4d4d4d" stroke-width="0.25">0</text>
<line x1="472.7" y1="1562.1" x2="478" y2="1562.1" stroke="#333" stroke-width="2" />
<text x="459.9" y="1568" font-size="17.0" fill="#4d4d4d" stroke="#4d4d4d" stroke-width="0.25">5</text>
<line x1="472.7" y1="1524.4" x2="478" y2="1524.4" stroke="#333" stroke-width="2" />
<text x="449.9" y="1530.3" font-size="17.0" fill="#4d4d4d" stroke="#4d4d4d" stroke-width="0.25">10</text>
<line x1="472.7" y1="1486.7" x2="478" y2="1486.7" stroke="#333" stroke-width="2" />
<text x="449.9" y="1492.6" font-size="17.0" fill="#4d4d4d" stroke="#4d4d4d" stroke-width="0.25">15</text>
<line x1="472.7" y1="1449" x2="478" y2="1449" stroke="#333" stroke-width="2" />
<text x="449.9" y="1454.9" font-size="17.0" fill="#4d4d4d" stroke="#4d4d4d" stroke-width="0.25">20</text>
<line x1="472.7" y1="1411.3" x2="478" y2="1411.3" stroke="#333" stroke-width="2" />
<text x="449.9" y="1417.2" font-size="17.0" fill="#4d4d4d" stroke="#4d4d4d" stroke-width="0.25">25</text>
<line x1="472.7" y1="1373.6" x2="478" y2="1373.6" stroke="#333" stroke-width="2" />
<text x="449.9" y="1379.5" font-size="17.0" fill="#4d4d4d" stroke="#4d4d4d" stroke-width="0.25">30</text>
<line x1="472.7" y1="1335.9" x2="478" y2="1335.9" stroke="#333" stroke-width="2" />
<text x="449.9" y="1341.8" font-size="17.0" fill="#4d4d4d" stroke="#4d4d4d" stroke-width="0.25">35</text>
<text transform="translate(435.9,1567.6) rotate(-90)" font-size="19.2" fill="#231f20" stroke="#231f20" stroke-width="0.25">% HbF+ in hCD235a</text>
<rect x="486.8" y="1517.3" width="36.4" height="82.1" fill="#bdbdbd" stroke="#231f20" stroke-width="2"/>
<rect x="532.7" y="1419" width="36" height="180.4" fill="#6cbac4" stroke="#231f20" stroke-width="2"/>
<rect x="578.6" y="1497.4" width="35.2" height="102" fill="#f4ba1f" stroke="#231f20" stroke-width="2"/>
<line x1="504.7" y1="1599" x2="504.7" y2="1604.1" stroke="#333" stroke-width="2" />
<text x="480.05" y="1619.3" font-size="16.9" fill="#4d4d4d" stroke="#4d4d4d" stroke-width="0.25">mock</text>
<line x1="550.4" y1="1599" x2="550.4" y2="1604.1" stroke="#333" stroke-width="2" />
<text x="529.75" y="1619.3" font-size="16.8" fill="#4d4d4d" stroke="#4d4d4d" stroke-width="0.25">PVT1</text>
<line x1="595.8" y1="1599" x2="595.8" y2="1604.1" stroke="#333" stroke-width="2" />
<text x="575.3" y="1619.3" font-size="17.3" fill="#4d4d4d" stroke="#4d4d4d" stroke-width="0.25">μLCR</text>
<line x1="504.7" y1="1511.1" x2="504.7" y2="1524.2" stroke="#000" stroke-width="2" />
<line x1="495.3" y1="1511.1" x2="514.1" y2="1511.1" stroke="#000" stroke-width="2.2" />
<line x1="495.3" y1="1524.2" x2="514.1" y2="1524.2" stroke="#000" stroke-width="2.2" />
<line x1="550.6" y1="1402.2" x2="550.6" y2="1435.7" stroke="#000" stroke-width="2" />
<line x1="541.2" y1="1402.2" x2="560" y2="1402.2" stroke="#000" stroke-width="2.2" />
<line x1="541.2" y1="1435.7" x2="560" y2="1435.7" stroke="#000" stroke-width="2.2" />
<line x1="596" y1="1484.1" x2="596" y2="1510.6" stroke="#000" stroke-width="2" />
<line x1="586.6" y1="1484.1" x2="605.4" y2="1484.1" stroke="#000" stroke-width="2.2" />
<line x1="586.6" y1="1510.6" x2="605.4" y2="1510.6" stroke="#000" stroke-width="2.2" />
<circle cx="504.7" cy="1502.4" r="3.9" fill="#fff" stroke="#000" stroke-width="2.2"/>
<circle cx="504.7" cy="1507.4" r="3.9" fill="#fff" stroke="#000" stroke-width="2.2"/>
<circle cx="504.7" cy="1512.3" r="3.9" fill="#fff" stroke="#000" stroke-width="2.2"/>
<circle cx="504.7" cy="1530.2" r="3.9" fill="#fff" stroke="#000" stroke-width="2.2"/>
<circle cx="504.7" cy="1535.9" r="3.9" fill="#fff" stroke="#000" stroke-width="2.2"/>
<circle cx="550.6" cy="1368.7" r="3.9" fill="#fff" stroke="#000" stroke-width="2.2"/>
<circle cx="550.6" cy="1396" r="3.9" fill="#fff" stroke="#000" stroke-width="2.2"/>
<circle cx="550.6" cy="1428.2" r="3.9" fill="#fff" stroke="#000" stroke-width="2.2"/>
<circle cx="550.6" cy="1438.2" r="3.9" fill="#fff" stroke="#000" stroke-width="2.2"/>
<circle cx="550.6" cy="1465" r="3.9" fill="#fff" stroke="#000" stroke-width="2.2"/>
<circle cx="596" cy="1457.5" r="3.9" fill="#fff" stroke="#000" stroke-width="2.2"/>
<circle cx="596" cy="1479.6" r="3.9" fill="#fff" stroke="#000" stroke-width="2.2"/>
<circle cx="596" cy="1501.9" r="3.9" fill="#fff" stroke="#000" stroke-width="2.2"/>
<circle cx="596" cy="1516.8" r="3.9" fill="#fff" stroke="#000" stroke-width="2.2"/>
<circle cx="596" cy="1532.7" r="3.9" fill="#fff" stroke="#000" stroke-width="2.2"/>
<line x1="503.7" y1="1317" x2="597.1" y2="1317" stroke="#231f20" stroke-width="2" />
<text x="541.65" y="1313.3" font-size="16.2" fill="#231f20" stroke="#231f20" stroke-width="0.25">ns</text>
<line x1="549.8" y1="1337" x2="597.1" y2="1337" stroke="#231f20" stroke-width="2" />
<text x="555.4" y="1333.4" font-size="16.4" fill="#231f20" stroke="#231f20" stroke-width="0.25">0.021</text>
<line x1="504.2" y1="1356.8" x2="551.5" y2="1356.8" stroke="#231f20" stroke-width="2" />
<text x="487.75" y="1353.8" font-size="16.9" fill="#231f20" stroke="#231f20" stroke-width="0.25">7.263e–03</text>
</svg>
</body></html>
